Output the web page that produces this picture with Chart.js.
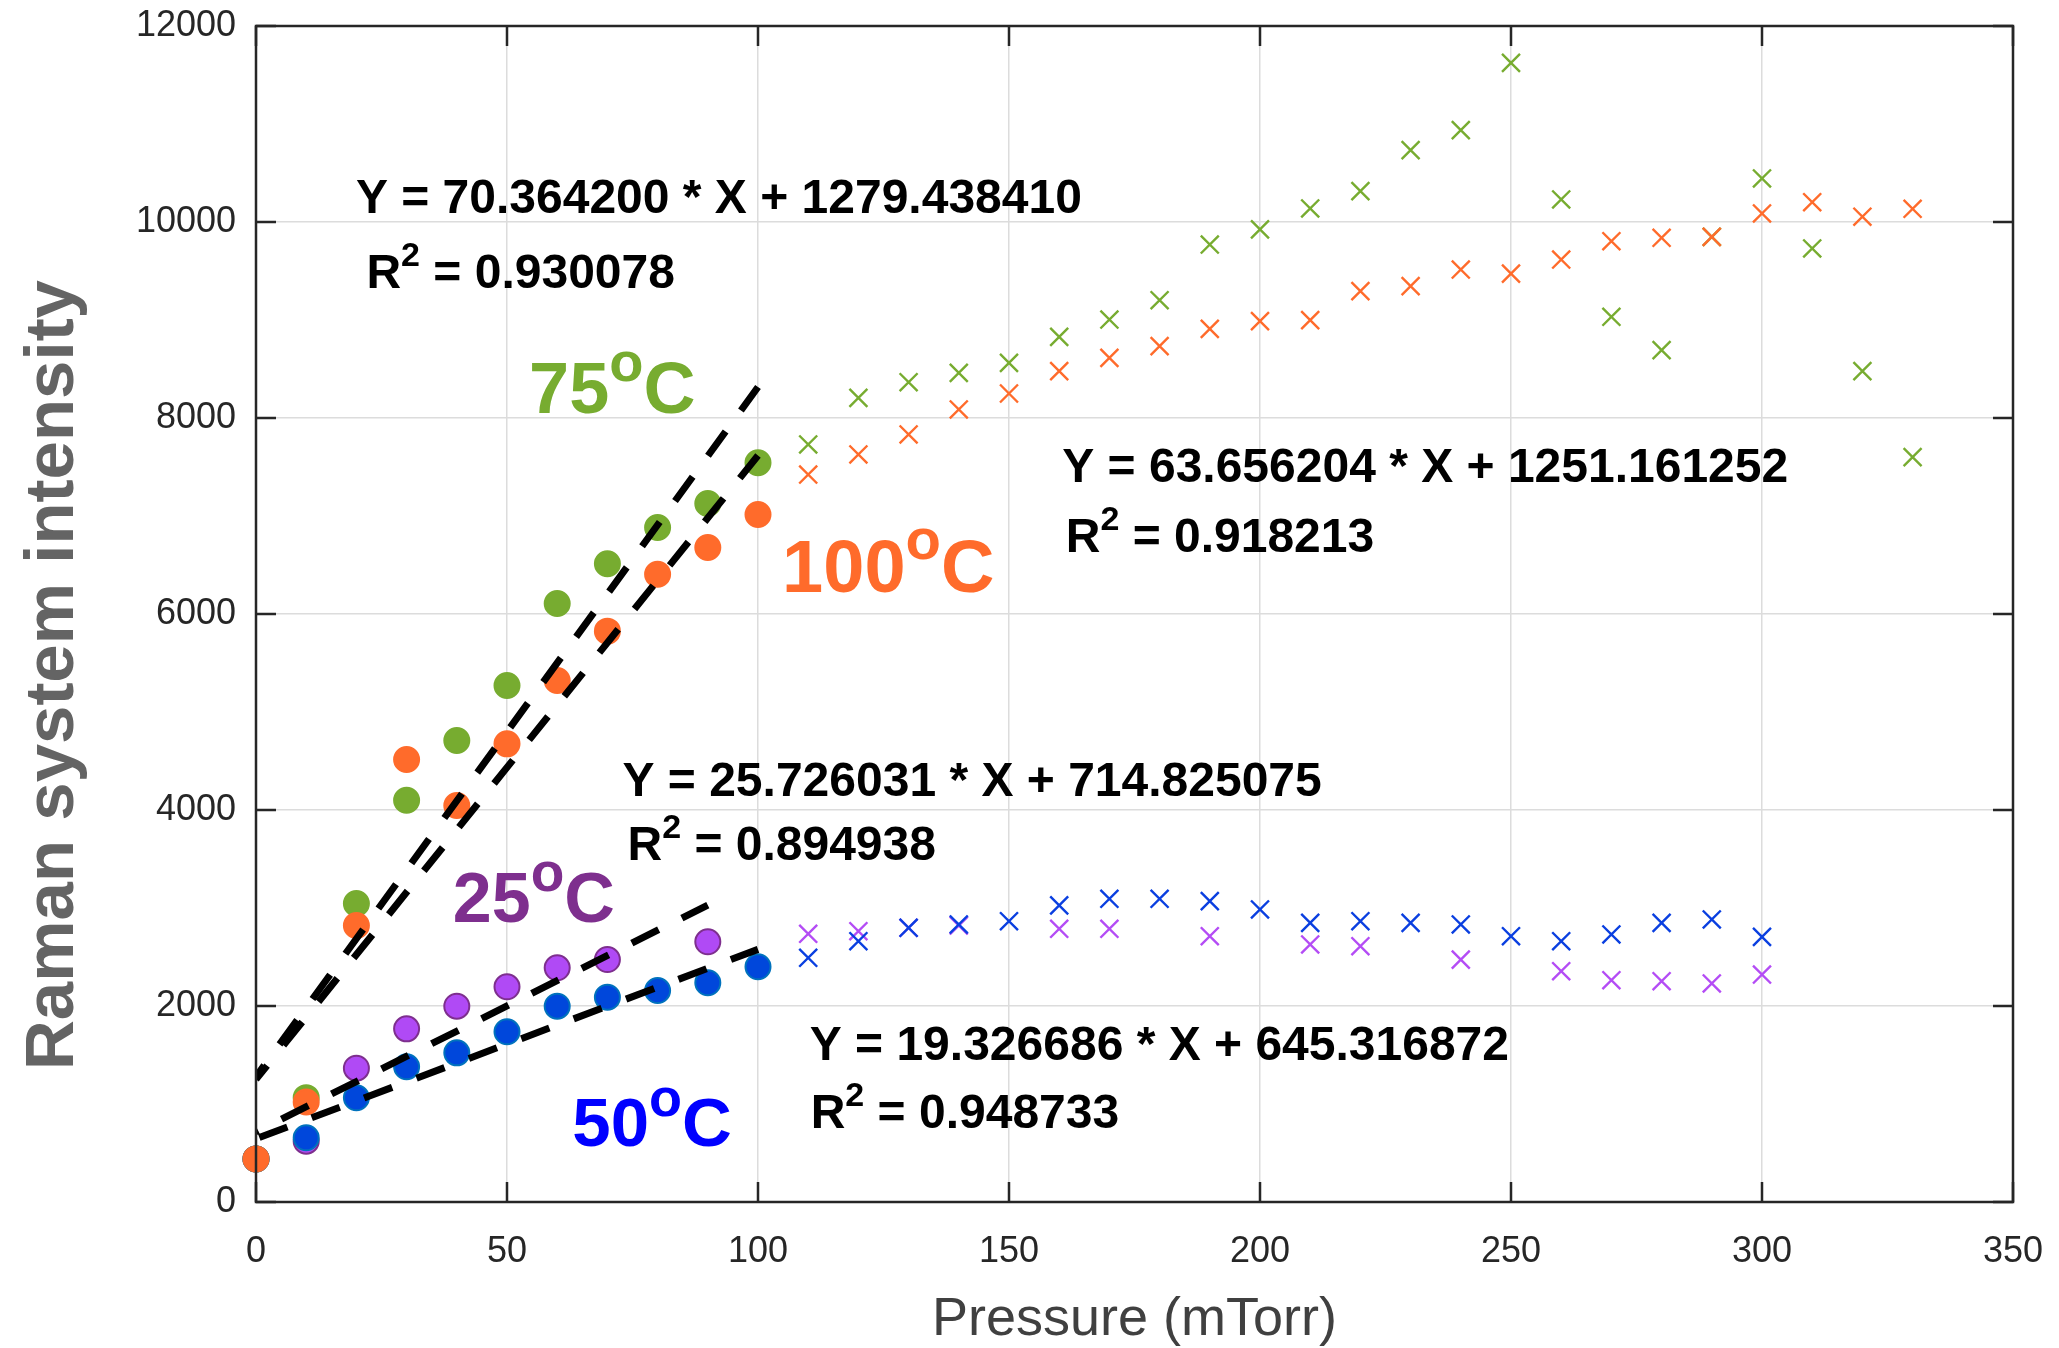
<!DOCTYPE html>
<html>
<head>
<meta charset="utf-8">
<title>Raman system intensity vs pressure</title>
<script src="https://cdn.jsdelivr.net/npm/chart.js@4.4.1/dist/chart.umd.min.js"></script>
<style>
  html, body { margin: 0; padding: 0; background: #ffffff; }
  canvas { display: block; }
</style>
</head>
<body>
<canvas id="chart" width="2059" height="1348"></canvas>
<script>
// Pressure steps (mTorr): fitted range and the extended range
const pressureLow  = [0, 10, 20, 30, 40, 50, 60, 70, 80, 90, 100];
const pressureHigh = [110, 120, 130, 140, 150, 160, 170, 180, 190, 200, 210, 220,
                      230, 240, 250, 260, 270, 280, 290, 300, 310, 320, 330];

// Raman intensity, 75 °C
const t75Low  = [440, 1065, 3046, 4100, 4709, 5270, 6107, 6512, 6883, 7128, 7543];
const t75High = [7730, 8206, 8365, 8461, 8563, 8828, 9005, 9202, 9770, 9924, 10138, 10315,
                 10733, 10937, 11624, 10230, 9033, 8692, 9849, 10444, 9730, 8478, 7600];

// Raman intensity, 100 °C
const t100Low  = [440, 1020, 2821, 4515, 4046, 4675, 5321, 5825, 6406, 6679, 7015];
const t100High = [7423, 7628, 7832, 8087, 8250, 8478, 8614, 8733, 8910, 8988, 8998, 9294,
                  9345, 9515, 9474, 9617, 9804, 9839, 9849, 10087, 10202, 10054, 10135];

// Raman intensity, 25 °C (null = no measurement)
const t25Low  = [440, 620, 1365, 1767, 1998, 2196, 2390, 2474, null, 2655, null];
const t25High = [2737, 2763, 2798, 2821, null, 2788, 2788, null, 2712, null, 2628, 2610,
                 null, 2474, null, 2355, 2263, 2253, 2230, 2321];

// Raman intensity, 50 °C
const t50Low  = [440, 655, 1063, 1380, 1522, 1737, 1998, 2090, 2158, 2237, 2400];
const t50High = [2492, 2661, 2798, 2832, 2865, 3026, 3094, 3094, 3070, 2985, 2849, 2865,
                 2849, 2832, 2712, 2661, 2730, 2849, 2883, 2706];

// Linear fits (75, 100, 25, 50 °C)
const fitNames      = ['75', '100', '25', '50'];
const fitSlopes     = [70.364200, 63.656204, 25.726031, 19.326686];
const fitIntercepts = [1279.438410, 1251.161252, 714.825075, 645.316872];
const fitR2         = [0.930078, 0.918213, 0.894938, 0.948733];
const fitXMax       = [100, 100, 90, 100];

// Axis ticks
const xTicks = [0, 50, 100, 150, 200, 250, 300, 350];
const yTicks = [0, 2000, 4000, 6000, 8000, 10000, 12000];

const FONT = 'Arial, "Liberation Sans", Helvetica, sans-serif';
const GREEN = '#77AC30', ORANGE = '#FF6B2B', BLUE = '#0047DB', PURPLE = '#B04AF5';
const DASH = 30, GAP = 26;

const toPoints = (xs, ys) => xs.map((x, i) => ({ x, y: ys[i] })).filter(p => p.y !== null && p.y !== undefined);

function circleSet(xs, ys, fill, edge, order) {
  return { data: toPoints(xs, ys), pointStyle: 'circle', pointRadius: 12.5, pointHoverRadius: 12.5,
           backgroundColor: fill, borderColor: edge, pointBorderWidth: 2, borderWidth: 2,
           showLine: false, clip: false, order };
}
function crossSet(xs, ys, color, order) {
  return { data: toPoints(xs, ys), pointStyle: 'crossRot', pointRadius: 12.7, pointHoverRadius: 12.7,
           backgroundColor: color, borderColor: color, pointBorderWidth: 2.4, borderWidth: 2.4,
           showLine: false, clip: false, order };
}
function fitSet(i) {
  const xe = fitXMax[i];
  const pts = [{ x: 0, y: fitIntercepts[i] }, { x: xe, y: fitSlopes[i] * xe + fitIntercepts[i] }];
  return { data: pts,
           showLine: true, borderColor: '#000000', borderWidth: 7, borderDash: [DASH, GAP],
           // shift the dash pattern so the line finishes on a full dash
           borderDashOffset: c => {
             const xs = c.chart.scales.x, ys = c.chart.scales.y;
             if (!xs || !ys) return 0;
             const dx = xs.getPixelForValue(pts[1].x) - xs.getPixelForValue(pts[0].x);
             const dy = ys.getPixelForValue(pts[1].y) - ys.getPixelForValue(pts[0].y);
             const len = Math.hypot(dx, dy), period = DASH + GAP;
             return (((DASH - 1 - len) % period) + period) % period;
           },
           borderCapStyle: 'butt', pointRadius: 0, pointHoverRadius: 0, fill: false, clip: 0, order: 0 };
}

const datasets = [
  ...fitNames.map((_, i) => fitSet(i)),
  circleSet(pressureLow, t100Low, ORANGE, ORANGE, 1),
  crossSet(pressureHigh, t100High, ORANGE, 1),
  circleSet(pressureLow, t50Low, BLUE, '#0072BD', 2),
  crossSet(pressureHigh.slice(0, t50High.length), t50High, '#0A3FE0', 2),
  circleSet(pressureLow, t75Low, GREEN, GREEN, 3),
  crossSet(pressureHigh, t75High, GREEN, 3),
  circleSet(pressureLow, t25Low, PURPLE, '#7E2F8E', 4),
  crossSet(pressureHigh.slice(0, t25High.length), t25High, '#B44CF5', 4)
];

// Text placement (in axis units: mTorr, intensity)
const eqPlacement = [
  { eq: [19.9, 10089], r2: [22.0, 9323] },
  { eq: [160.6, 7350], r2: [161.3, 6636] },
  { eq: [73.0, 4146],  r2: [74.0, 3490] },
  { eq: [110.3, 1449], r2: [110.5, 752] }
];
const tempPlacement = [
  { pos: [54.4, 8051],  size: 72, color: GREEN },
  { pos: [104.8, 6228], size: 74, color: ORANGE },
  { pos: [39.2, 2860],  size: 70, color: '#7E2F8E' },
  { pos: [63.0, 571],   size: 69, color: '#0000FF' }
];

function drawRuns(ctx, x, y, runs, color) {
  ctx.fillStyle = color;
  ctx.textAlign = 'left';
  ctx.textBaseline = 'alphabetic';
  for (const r of runs) {
    ctx.font = `bold ${r.size}px ${FONT}`;
    ctx.fillText(r.text, x, y - (r.rise || 0));
    x += ctx.measureText(r.text).width;
  }
}

const decorations = {
  id: 'decorations',
  afterDatasetsDraw(chart) {
    const ctx = chart.ctx;
    const xs = chart.scales.x, ys = chart.scales.y;
    const { left, right, top, bottom } = chart.chartArea;
    ctx.save();

    // axes box
    ctx.strokeStyle = '#262626';
    ctx.lineWidth = 2.5;
    ctx.strokeRect(left, top, right - left, bottom - top);

    // inward tick marks on all four sides
    ctx.beginPath();
    xTicks.forEach(v => {
      const px = xs.getPixelForValue(v);
      ctx.moveTo(px, bottom); ctx.lineTo(px, bottom - 20);
      ctx.moveTo(px, top);    ctx.lineTo(px, top + 20);
    });
    yTicks.forEach(v => {
      const py = ys.getPixelForValue(v);
      ctx.moveTo(left, py);  ctx.lineTo(left + 20, py);
      ctx.moveTo(right, py); ctx.lineTo(right - 20, py);
    });
    ctx.stroke();

    // fit equations and R²
    fitNames.forEach((_, i) => {
      const p = eqPlacement[i];
      drawRuns(ctx, xs.getPixelForValue(p.eq[0]), ys.getPixelForValue(p.eq[1]),
        [{ text: `Y = ${fitSlopes[i].toFixed(6)} * X + ${fitIntercepts[i].toFixed(6)}`, size: 48 }], '#000000');
      drawRuns(ctx, xs.getPixelForValue(p.r2[0]), ys.getPixelForValue(p.r2[1]),
        [{ text: 'R', size: 48 }, { text: '2', size: 34, rise: 22 }, { text: ` = ${fitR2[i].toFixed(6)}`, size: 48 }], '#000000');
    });

    // temperature labels
    fitNames.forEach((name, i) => {
      const t = tempPlacement[i];
      drawRuns(ctx, xs.getPixelForValue(t.pos[0]), ys.getPixelForValue(t.pos[1]),
        [{ text: name, size: t.size }, { text: 'o', size: Math.round(t.size * 0.78), rise: t.size * 0.44 },
         { text: 'C', size: t.size }], t.color);
    });

    ctx.restore();
  },
  afterDraw(chart) {
    const ctx = chart.ctx;
    const { left, right } = chart.chartArea;
    ctx.save();
    // x-axis title
    ctx.fillStyle = '#404040';
    ctx.font = `54px ${FONT}`;
    ctx.textAlign = 'center';
    ctx.textBaseline = 'alphabetic';
    ctx.fillText('Pressure (mTorr)', (left + right) / 2, 1335);
    // y-axis title
    ctx.translate(73, 675);
    ctx.rotate(-Math.PI / 2);
    ctx.fillStyle = '#646464';
    ctx.font = `bold 69px ${FONT}`;
    ctx.fillText('Raman system intensity', 0, 0);
    ctx.restore();
  }
};

// fixed axis box: the scales take exact sizes and ask for no extra label margins
function fixScale(size) {
  return s => {
    if (s.isHorizontal()) s.height = size; else s.width = size;
    s.paddingLeft = 0; s.paddingRight = 0; s.paddingTop = 0; s.paddingBottom = 0;
  };
}

new Chart(document.getElementById('chart'), {
  type: 'scatter',
  data: { datasets },
  options: {
    responsive: false,
    animation: false,
    devicePixelRatio: 1,
    events: [],
    layout: { padding: { left: 0, right: 46, top: 26, bottom: 0 } },
    plugins: { legend: { display: false }, tooltip: { enabled: false } },
    scales: {
      x: {
        type: 'linear', min: 0, max: 350,
        afterBuildTicks: s => { s.ticks = xTicks.map(v => ({ value: v })); },
        ticks: { padding: 28, color: '#262626', font: { family: FONT, size: 36 }, maxRotation: 0,
                 autoSkip: false, callback: v => String(v) },
        grid: { color: '#dcdcdc', lineWidth: 1.5, drawTicks: false },
        border: { display: false },
        afterFit: fixScale(146)
      },
      y: {
        type: 'linear', min: 0, max: 12000,
        afterBuildTicks: s => { s.ticks = yTicks.map(v => ({ value: v })); },
        ticks: { padding: 20, color: '#262626', font: { family: FONT, size: 36 },
                 autoSkip: false, callback: v => String(v) },
        grid: { color: '#dcdcdc', lineWidth: 1.5, drawTicks: false },
        border: { display: false },
        afterFit: fixScale(256)
      }
    }
  },
  plugins: [decorations]
});
</script>
</body>
</html>
